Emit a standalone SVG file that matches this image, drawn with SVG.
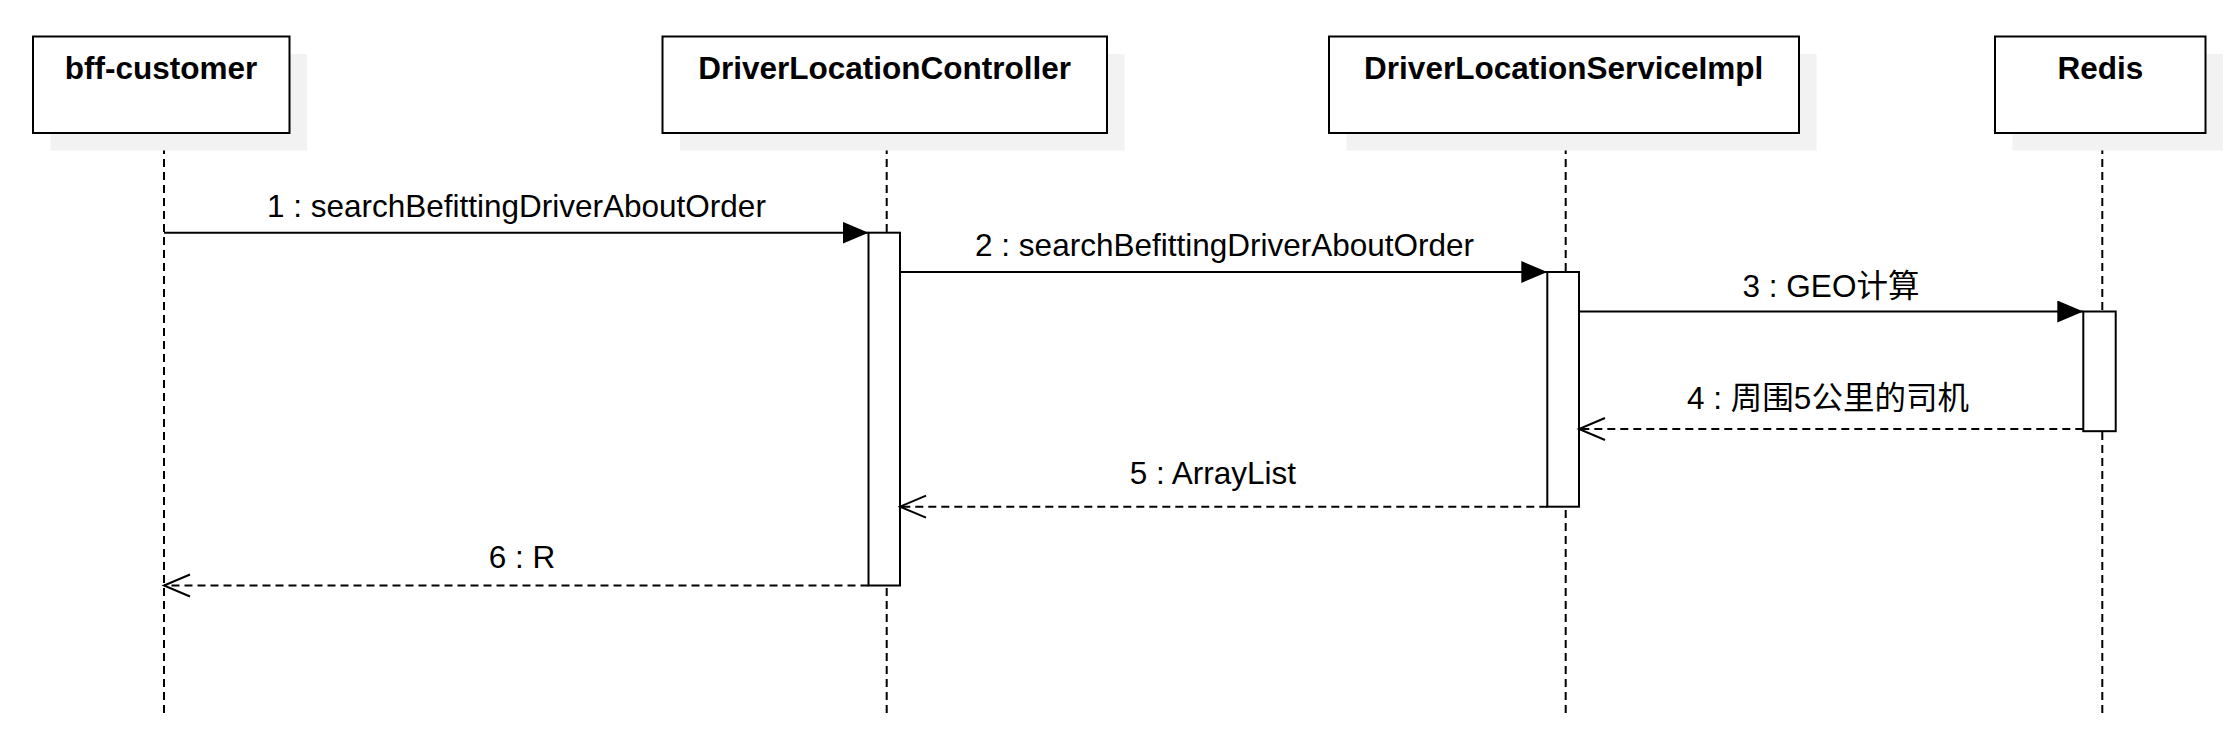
<svg xmlns="http://www.w3.org/2000/svg" width="2239" height="737" viewBox="0 0 2239 737">
<style>
.shadow{fill:#f2f2f2;stroke:none}
.box{fill:#ffffff;stroke:#000;stroke-width:2}
.title{font-family:"Liberation Sans","Noto Sans CJK SC",sans-serif;font-size:31.5px;font-weight:bold;fill:#000;text-anchor:middle}
.life{stroke:#000;stroke-width:2;stroke-dasharray:8 5;fill:none}
.act{fill:#ffffff;stroke:#000;stroke-width:2}
.call{stroke:#000;stroke-width:2;fill:none}
.ret{stroke:#000;stroke-width:2;stroke-dasharray:8 5;fill:none}
.lbl{font-family:"Liberation Sans","Noto Sans CJK SC",sans-serif;font-size:31.5px;fill:#000;text-anchor:middle}
</style>
<defs>
<marker id="block" markerUnits="userSpaceOnUse" markerWidth="28" markerHeight="24" refX="26" refY="11" orient="auto">
<path d="M0,0 L26,11 L0,22 Z" fill="#000"/>
</marker>
<marker id="open" markerUnits="userSpaceOnUse" markerWidth="30" markerHeight="26" refX="27" refY="12" orient="auto">
<path d="M1,1 L27,12 L1,23" fill="none" stroke="#000" stroke-width="2"/>
</marker>
</defs>
<rect width="2239" height="737" fill="#ffffff"/>

<g id="lifelines">
<line class="life" x1="164" y1="133" x2="164" y2="715"/>
<line class="life" x1="886.7" y1="133" x2="886.7" y2="715"/>
<line class="life" x1="1565.7" y1="133" x2="1565.7" y2="715"/>
<line class="life" x1="2102.3" y1="133" x2="2102.3" y2="715"/>
</g>

<g id="bff-customer">
<rect class="shadow" x="50.5" y="54" width="256.5" height="96.5"/>
<rect class="box" x="33" y="36.5" width="256.5" height="96.5"/>
<text class="title" x="161" y="79">bff-customer</text>
</g>

<g id="DriverLocationController">
<rect class="shadow" x="680" y="54" width="444.5" height="96.5"/>
<rect class="box" x="662.5" y="36.5" width="444.5" height="96.5"/>
<text class="title" x="884.7" y="79">DriverLocationController</text>
</g>

<g id="DriverLocationServiceImpl">
<rect class="shadow" x="1346.5" y="54" width="470" height="96.5"/>
<rect class="box" x="1329" y="36.5" width="470" height="96.5"/>
<text class="title" x="1563.7" y="79">DriverLocationServiceImpl</text>
</g>

<g id="Redis">
<rect class="shadow" x="2012.5" y="54" width="210.5" height="96.5"/>
<rect class="box" x="1995" y="36.5" width="210.5" height="96.5"/>
<text class="title" x="2100.3" y="79">Redis</text>
</g>

<g id="activations">
<rect class="act" x="868.5" y="232.7" width="31.5" height="352.8"/>
<rect class="act" x="1547.3" y="272" width="31.7" height="234.7"/>
<rect class="act" x="2083.3" y="311.5" width="32.4" height="119.7"/>
</g>

<g id="connectors">
<line class="call" x1="164" y1="232.7" x2="868.5" y2="232.7" marker-end="url(#block)"/>
<line class="call" x1="900" y1="272" x2="1547.3" y2="272" marker-end="url(#block)"/>
<line class="call" x1="1579" y1="311.5" x2="2083.3" y2="311.5" marker-end="url(#block)"/>
<line class="ret" x1="2083.3" y1="429" x2="1579" y2="429" marker-end="url(#open)"/>
<line class="ret" x1="1547.3" y1="506.7" x2="900" y2="506.7" marker-end="url(#open)"/>
<line class="ret" x1="868.5" y1="585.5" x2="164" y2="585.5" marker-end="url(#open)"/>
</g>

<g id="labels">
<text class="lbl" x="516.4" y="216.5">1 : searchBefittingDriverAboutOrder</text>
<text class="lbl" x="1224.6" y="256">2 : searchBefittingDriverAboutOrder</text>
<text class="lbl" x="1831" y="297">3 : GEO计算</text>
<text class="lbl" x="1828" y="409">4 : 周围5公里的司机</text>
<text class="lbl" x="1212.8" y="484">5 : ArrayList</text>
<text class="lbl" x="522" y="568">6 : R</text>
</g>
</svg>
